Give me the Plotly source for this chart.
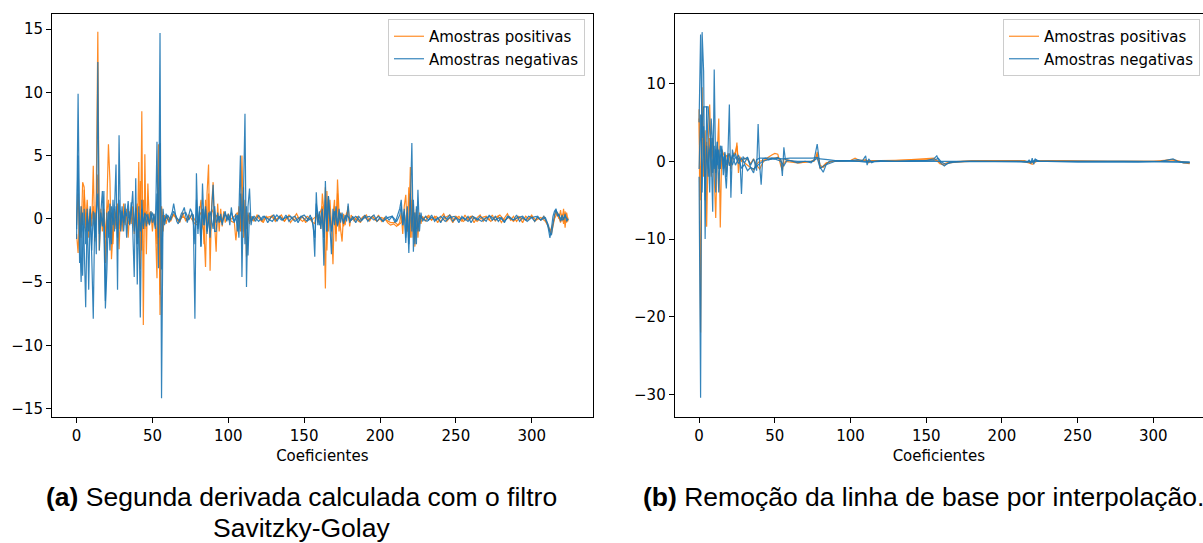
import plotly.graph_objects as go

# ---------------- (a) second derivative (Savitzky-Golay) ----------------
a_pos_1 = [(0,-1.2),(1,-2.7),(2,0.5),(3,-1.5),(4,2.9),(5,2.5),(6,-0.5),(7,1.5),(8,-1.0),(9,0.8),(10,-0.6),(11,4.2),(12,-1.8),(13,2.0),(14,14.8),(15,-2.5),(16,0.8),(17,-1.0),(18,0.5),(19,-3.5),(20,1.2),(21,5.9),(22,3.0),(23,-3.2),(24,-1.0),(25,0.6),(26,-0.8),(27,1.0),(28,-2.4),(29,0.7),(30,-1.0),(31,1.2),(32,-0.5),(33,0.8),(34,-1.5),(35,0.6),(36,-0.4),(37,1.0),(38,-1.2),(39,0.9),(40,-2.0),(41,4.5),(42,-4.0),(43,8.5),(44,-8.4),(45,5.1),(46,-2.8),(47,2.8),(48,-0.5),(49,0.6),(50,-1.0),(51,0.4),(52,-0.8),(53,-4.7),(54,5.9),(55,-7.6),(56,0.8),(57,-1.0),(58,0.3),(59,-0.4),(60,0.2),(62,-0.2),(64,0.4),(66,0.0),(68,-0.3),(70,0.5),(72,-0.2),(74,0.3),(76,-0.1),(78,-0.4),(80,-0.5),(81,0.6),(82,1.5),(83,-0.6),(84,-1.0),(85,-3.8),(86,2.0),(87,4.3),(88,-4.1),(89,1.0),(90,2.9),(91,-0.5),(92,-2.6),(93,1.2),(94,-1.0),(95,0.8),(96,-0.6),(97,0.6),(98,-0.3),(100,0.4),(102,-0.2),(104,-0.3),(105,-1.7),(106,-0.5),(107,1.0),(108,-0.8),(109,5.0),(110,-1.0),(111,1.5),(112,-3.0),(113,0.5),(114,-0.4),(115,0.2),
           (117,-0.2),(119,0.3),(121,0.1),(123,-0.3),(125,0.2),(127,-0.1),(129,0.3),(131,-0.2),(133,0.1),(135,0.3),(137,-0.2),(139,0.2),(141,-0.3),(143,0.1),(145,0.4),(147,-0.1),(149,0.2),(151,-0.3),(153,0.1),(155,-0.2),
           (157,-0.4),(158,0.5),(159,-0.3),(160,0.4),(161,-0.8),(162,2.0),(163,0.6),(164,-5.5),(165,2.2),(166,-1.0),(167,1.5),(168,-0.5),(169,-3.6),(170,1.0),(171,-1.2),(172,3.1),(173,0.5),(174,-0.8),(175,-1.8),(176,0.4),(177,-0.5),(178,0.3),(179,1.0),(180,-0.6),(181,0.3),(183,-0.2),
           (185,0.2),(187,-0.3),(189,0.1),(191,0.3),(193,-0.2),(195,0.2),(197,-0.1),(199,0.3),(201,-0.2),(203,0.1),(205,-0.3),(207,-0.5),(209,-0.4),(211,-0.6),(213,-0.3),(214,0.5),(215,-1.2),(216,1.0),(217,1.9),(218,-1.0),(219,-0.5),(220,4.1),(221,-1.5),(222,1.2),(223,-2.2),(224,0.8),(225,-1.5),(226,0.5),(227,-0.4),(228,0.2),
           (230,-0.2),(232,0.3),(234,-0.1),(236,0.2),(238,-0.3),(240,0.1),(242,0.4),(244,-0.2),(246,0.1),(248,-0.3),(250,0.2),(252,0.0),(254,-0.2),(256,0.3),(258,-0.1),(260,0.2),(262,-0.3),(264,0.1),(266,0.3),(268,-0.2),(270,0.1),(272,-0.1),(274,0.3),(276,-0.2),(278,0.2),(280,-0.3),(282,0.1),(284,0.4),(286,-0.1),(288,0.2),(290,-0.2),(292,0.1),(294,-0.3),(296,0.2),(298,0.0),(300,0.3),(302,-0.2),(304,0.1),(306,-0.1),(308,0.2),(310,-0.3),(312,-1.0),(314,-0.4),(316,0.6),(318,0.0),(319,0.7),(320,-0.2),(321,0.8),(322,-0.7),(323,0.5),(324,-0.2)]

a_pos_2 = [(0,-0.5),(1,2.0),(2,-1.5),(3,1.0),(4,-0.5),(5,2.3),(6,-1.0),(7,0.8),(8,-1.5),(9,0.5),(10,0.0),(11,1.0),(12,-0.8),(13,0.6),(14,3.5),(15,-1.0),(16,0.5),(17,-0.5),(18,0.8),(19,-1.5),(20,0.6),(21,1.5),(22,-1.2),(23,0.5),(24,-2.0),(25,0.8),(26,-0.5),(27,1.2),(28,-0.8),(29,0.5),(30,-0.3),(32,0.6),(34,-0.4),(36,0.5),(38,-0.6),(40,1.2),(41,-1.5),(42,3.0),(43,-2.5),(44,1.5),(45,-0.8),(46,0.6),(47,-0.4),(48,0.5),(50,-0.3),(52,0.2),(53,-2.0),(54,2.5),(55,-6.0),(56,1.0),(57,-0.3),(58,0.2),(61,-0.1),(64,0.3),(67,-0.2),(70,0.2),(73,-0.1),(76,0.3),(79,-0.3),(82,0.5),(83,0.5),(84,-2.0),(85,1.5),(86,-1.0),(87,2.0),(88,-1.5),(89,0.8),(90,0.5),(91,-0.8),(92,0.3),(95,-0.2),(98,0.3),(101,-0.1),(104,0.2),(106,0.5),(108,-1.0),(109,2.0),(110,-1.5),(111,0.8),(112,-0.8),(113,0.3),
           (116,-0.1),(119,0.2),(122,-0.2),(125,0.1),(128,0.2),(131,-0.1),(134,0.2),(137,-0.2),(140,0.3),(143,-0.1),(146,0.1),(149,-0.2),(152,0.2),(155,-0.1),(158,0.2),(160,0.3),(162,1.0),(163,-1.5),(164,2.5),(165,-2.5),(166,1.0),(168,-1.0),(170,1.5),(171,-1.8),(172,2.0),(173,-1.0),(174,0.5),(176,-0.6),(178,0.5),(180,-0.2),
           (183,0.1),(186,-0.2),(189,0.2),(192,-0.1),(195,0.2),(198,-0.2),(201,0.1),(204,-0.1),(207,-0.3),(210,-0.3),(212,-0.5),(214,-0.3),(216,0.5),(218,-1.0),(219,2.5),(220,-1.5),(221,1.5),(222,-1.0),(223,0.5),(224,-0.8),(226,0.3),(228,0.0),
           (231,0.2),(234,-0.1),(237,0.2),(240,-0.2),(243,0.1),(246,0.3),(249,-0.1),(252,0.2),(255,-0.2),(258,0.1),(261,0.2),(264,-0.2),(267,0.1),(270,0.2),(273,-0.2),(276,0.1),(279,0.3),(282,-0.1),(285,0.1),(288,-0.2),(291,0.2),(294,0.0),(297,-0.1),(300,0.2),(303,-0.1),(306,0.1),(309,-0.2),(311,-0.6),(313,-1.2),(315,0.0),(317,0.5),(319,-0.3),(320,0.4),(321,-0.4),(322,0.6),(323,-0.3),(324,0.1)]

a_neg_1 = [(0,-1.6),(1,9.9),(2,-1.0),(3,-5.0),(4,0.5),(5,-2.0),(6,-7.0),(7,0.8),(8,-5.6),(9,1.0),(10,-3.0),(11,-7.9),(12,0.5),(13,-2.8),(14,12.4),(15,-2.5),(16,0.5),(17,-0.6),(18,2.2),(19,-7.1),(20,-4.0),(21,0.6),(22,-2.5),(23,1.0),(24,-0.5),(25,0.8),(26,4.3),(27,-5.6),(28,6.6),(29,-1.0),(30,0.6),(31,-0.3),(32,1.2),(33,-1.5),(34,0.8),(35,-0.5),(36,1.3),(37,-0.8),(38,-4.6),(39,3.2),(40,-5.2),(41,1.0),(42,-7.8),(43,1.5),(44,-0.8),(45,0.5),(46,-0.6),(47,0.4),(48,-0.5),(49,0.6),(50,-0.3),(51,0.4),(52,-0.5),(53,6.1),(54,-3.9),(55,14.7),(56,-14.2),(57,0.8),(58,-0.5),(59,0.4),(60,0.0),(61,-0.3),(62,0.2),(63,0.5),(64,1.2),(65,0.3),(66,-0.2),(67,-0.4),(68,0.1),(69,0.4),(70,0.6),(71,0.9),(72,0.2),(73,-0.3),(74,0.3),(75,0.8),(76,0.5),(77,-0.5),(78,-7.9),(79,3.6),(80,-0.8),(81,0.6),(82,-2.2),(83,2.8),(84,-0.5),(85,0.8),(86,-1.2),(87,0.5),(88,-1.5),(89,0.6),(90,2.7),(91,-1.0),(92,-1.0),(93,0.5),(94,-0.3),(95,0.4),(96,-0.5),(97,0.3),(98,0.6),(99,-0.2),(100,0.4),(101,-0.5),(102,0.9),(103,0.0),(104,-0.3),(105,0.4),(106,-1.0),(107,0.5),(108,5.0),(109,-4.6),(110,1.0),(111,8.3),(112,-5.4),(113,1.0),(114,2.4),(115,-0.5),(116,0.2),
           (118,-0.2),(120,0.3),(122,-0.1),(124,0.2),(126,-0.3),(128,0.1),(130,0.3),(132,-0.2),(134,0.2),(136,-0.1),(138,0.3),(140,-0.2),(142,0.1),(144,0.2),(146,-0.3),(148,0.2),(150,0.0),(152,-0.2),(154,0.3),(156,-0.5),(157,-3.0),(158,2.1),(159,-0.5),(160,0.6),(161,-0.8),(162,0.5),(163,-3.7),(164,3.0),(165,-1.0),(166,1.8),(167,-0.6),(168,-2.8),(169,0.8),(170,-0.5),(171,1.0),(172,-0.6),(173,0.8),(174,-0.3),(175,0.5),(176,-0.4),(177,0.3),(178,-0.2),(179,1.2),(180,-0.3),
           (182,0.2),(184,-0.3),(186,0.2),(188,-0.1),(190,0.3),(192,-0.2),(194,0.1),(196,0.3),(198,-0.2),(200,0.1),(202,-0.2),(204,0.2),(206,-0.1),(208,0.2),(210,-0.3),(212,0.4),(213,0.8),(214,1.5),(215,-0.5),(216,0.6),(217,-1.9),(218,0.5),(219,-2.7),(220,1.0),(221,6.0),(222,-2.6),(223,0.5),(224,-2.0),(225,2.3),(226,-1.0),(227,0.5),(228,-0.2),
           (230,0.2),(232,-0.1),(234,0.3),(236,-0.2),(238,0.1),(240,-0.3),(242,0.2),(244,0.0),(246,0.3),(248,-0.2),(250,0.1),(252,-0.3),(254,0.2),(256,-0.1),(258,0.2),(260,-0.3),(262,0.1),(264,-0.1),(266,0.2),(268,0.0),(270,-0.2),(272,0.3),(274,-0.1),(276,0.2),(278,-0.2),(280,0.1),(282,-0.3),(284,0.2),(286,0.0),(288,-0.1),(290,0.3),(292,-0.2),(294,0.1),(296,-0.1),(298,0.2),(300,0.1),(302,-0.2),(304,0.2),(306,-0.1),(308,0.2),(310,-0.3),(311,-0.8),(312,-1.5),(313,-0.8),(314,0.2),(315,0.6),(316,0.8),(317,0.2),(318,0.4),(319,-0.2),(320,0.3),(321,-0.1),(322,0.4),(323,-0.2),(324,0.0)]

a_neg_2 = [(0,-0.8),(1,5.0),(2,-3.5),(3,1.0),(4,-4.5),(5,0.8),(6,-2.0),(7,0.5),(8,-1.0),(9,0.8),(10,-2.5),(11,0.6),(12,-1.5),(13,0.3),(14,2.0),(15,-1.2),(16,0.3),(17,2.2),(18,-1.0),(19,-6.5),(20,0.5),(21,-1.5),(22,1.2),(23,-2.0),(24,1.5),(25,-1.0),(26,1.0),(27,-1.5),(28,1.5),(29,-0.5),(30,1.0),(31,-1.0),(32,0.6),(33,0.2),(34,1.4),(35,-0.4),(36,0.5),(37,2.2),(38,-1.0),(39,0.8),(40,-2.0),(41,0.5),(42,-1.0),(43,0.8),(44,-0.6),(45,0.4),(46,0.3),(48,-0.4),(50,0.5),(52,-0.8),(53,2.0),(54,-1.5),(55,6.0),(56,-4.0),(57,0.3),(58,-0.2),(60,0.3),(62,-0.1),(64,0.6),(66,0.1),(68,-0.2),(70,0.4),(72,0.5),(74,-0.1),(76,0.4),(77,0.3),(78,-2.0),(79,1.5),(80,-1.2),(81,1.0),(82,-2.2),(83,0.8),(84,-0.5),(85,1.0),(86,-1.0),(88,0.6),(90,-0.8),(91,1.0),(92,-0.3),(94,0.2),(96,-0.3),(98,0.4),(100,-0.1),(102,0.5),(104,-0.2),(106,0.3),(107,-1.5),(108,2.0),(109,-1.0),(110,2.5),(111,-2.0),(112,1.0),(113,-2.9),(114,0.5),(115,-0.2),
           (117,0.2),(120,-0.2),(123,0.2),(126,0.0),(129,-0.2),(132,0.3),(135,-0.1),(138,0.1),(141,0.2),(144,-0.2),(147,0.1),(150,0.3),(153,-0.1),(155,0.1),(157,-1.5),(158,1.2),(160,-0.5),(162,0.8),(163,-1.5),(164,1.5),(165,-1.0),(166,1.8),(168,-1.0),(170,0.6),(172,-0.5),(174,0.4),(176,-0.3),(178,0.3),
           (181,-0.1),(184,0.2),(187,-0.2),(190,0.1),(193,0.2),(196,-0.1),(199,0.2),(202,-0.2),(205,0.1),(208,0.2),(211,-0.2),(213,0.3),(214,1.0),(215,-0.5),(216,0.8),(217,-1.5),(218,1.0),(219,-2.0),(220,2.0),(221,-1.0),(222,1.5),(223,-2.0),(224,1.0),(225,-1.0),(226,0.3),(228,0.0),
           (231,-0.2),(234,0.1),(237,-0.1),(240,0.2),(243,-0.2),(246,0.1),(249,0.2),(252,-0.1),(255,0.1),(258,-0.2),(261,0.2),(264,0.0),(267,-0.2),(270,0.1),(273,0.2),(276,-0.1),(279,0.1),(282,-0.2),(285,0.2),(288,-0.1),(291,0.1),(294,0.2),(297,-0.2),(300,0.1),(303,0.2),(306,-0.1),(309,0.1),(311,-0.5),(312,-1.1),(313,-1.3),(314,-0.4),(315,0.3),(316,0.7),(318,0.2),(320,-0.1),(322,0.2),(324,-0.1)]

# ---------------- (b) baseline removed by interpolation ----------------
b_pos_1 = [(0,6.7),(1,-22.0),(2,9.5),(3,-2.0),(4,4.0),(5,-8.4),(6,2.0),(7,7.3),(8,0.5),(9,3.0),(10,-2.0),(11,-7.3),(12,1.0),(13,5.5),(14,-8.5),(15,1.5),(16,1.0),(17,0.5),(18,-1.5),(19,1.0),(20,0.8),(21,-1.0),(22,0.5),(23,1.0),(24,0.8),(25,2.4),(26,-1.5),(27,0.6),(28,0.0),(30,0.4),(32,0.2),(34,-0.3),(36,0.3),(38,-0.5),(40,-1.0),(42,-0.2),(44,0.3),(46,0.6),(48,0.8),(50,1.0),(52,0.9),(54,-0.6),(55,-1.2),(56,0.3),(58,0.2),(62,0.0),(66,-0.2),(70,-0.1),(74,0.0),(77,0.3),(78,1.2),(79,0.0),(80,-0.9),(82,-0.6),(84,-0.2),(88,0.0),(95,0.1),(100,0.1),(103,0.4),(106,0.1),(110,0.2),(112,-0.2),(115,0.1),(120,0.1),(130,0.1),(140,0.2),(150,0.3),(155,0.4),(157,0.1),(159,-0.3),(162,-0.5),(165,-0.2),(170,-0.1),(180,0.0),(190,0.1),(200,0.1),(210,0.1),(218,-0.2),(220,-0.4),(223,0.0),(230,0.1),(250,0.0),(270,0.0),(290,0.0),(305,0.0),(312,0.2),(316,0.0),(320,-0.2),(324,-0.3)]

b_pos_2 = [(0,5.5),(1,-5.0),(2,6.0),(3,3.5),(4,-3.0),(5,2.5),(6,-1.0),(7,3.0),(8,-2.0),(9,1.5),(10,0.5),(11,-1.5),(12,2.0),(13,0.5),(14,-1.0),(15,1.0),(16,0.0),(18,0.8),(20,-0.5),(22,0.6),(24,1.2),(25,2.0),(26,0.0),(28,0.3),(30,-0.2),(32,-0.5),(34,-0.8),(36,-1.1),(38,-0.4),(40,0.0),(44,0.2),(48,0.4),(52,0.5),(54,0.2),(55,-0.8),(57,0.0),(60,-0.1),(65,-0.2),(70,-0.1),(76,0.0),(78,0.9),(80,-0.5),(82,-0.8),(84,-0.3),(88,0.0),(100,0.1),(120,0.1),(140,0.2),(155,0.2),(158,0.0),(161,-0.4),(165,-0.1),(180,0.1),(200,0.1),(215,0.1),(219,-0.3),(222,0.1),(240,0.1),(270,0.0),(300,0.0),(313,0.2),(318,0.0),(324,-0.2)]

b_neg_1 = [(0,-2.0),(1,-30.4),(2,16.6),(3,11.6),(4,-10.0),(5,7.0),(6,7.0),(7,4.0),(8,1.0),(9,-6.5),(10,11.8),(11,-1.5),(12,2.5),(13,-4.0),(14,2.0),(15,1.0),(16,0.5),(17,-1.0),(18,-3.5),(19,0.5),(20,7.3),(21,-4.7),(22,1.5),(23,0.5),(24,1.0),(25,0.3),(26,0.8),(27,0.2),(28,-4.2),(29,0.6),(30,0.3),(32,0.5),(34,-0.5),(36,0.3),(38,-1.2),(39,4.8),(40,-0.5),(41,-3.0),(42,0.3),(44,0.4),(46,0.2),(48,0.4),(50,0.3),(52,0.5),(54,0.2),(55,-1.9),(56,1.8),(57,0.2),(60,0.1),(65,-0.2),(70,0.0),(74,-0.2),(76,0.2),(78,2.2),(79,0.5),(80,-0.8),(82,-1.4),(84,-0.4),(86,0.0),(90,0.1),(95,0.1),(100,0.1),(105,0.2),(108,0.1),(110,0.7),(111,-0.5),(112,0.3),(114,-0.2),(116,0.0),(120,0.1),(130,0.0),(140,0.1),(150,0.1),(155,0.3),(157,0.7),(158,0.2),(160,-0.3),(162,-0.6),(164,-0.3),(168,-0.1),(175,0.0),(185,0.0),(200,0.0),(212,0.0),(217,-0.1),(218,0.2),(219,-0.3),(220,0.4),(221,-0.4),(222,0.3),(224,0.0),(230,0.0),(250,-0.1),(270,-0.1),(290,-0.1),(305,0.0),(310,0.2),(313,0.3),(316,0.0),(320,-0.2),(324,-0.2)]

b_neg_2 = [(0,5.0),(1,16.3),(2,3.0),(3,7.0),(4,7.0),(5,7.0),(6,2.0),(7,-4.0),(8,5.5),(9,2.0),(10,-1.0),(11,1.5),(12,-0.5),(13,1.5),(14,-1.0),(15,2.0),(16,-1.0),(17,1.0),(18,-2.0),(19,0.5),(20,1.0),(22,-0.5),(24,0.6),(26,-0.3),(28,0.4),(30,-0.2),(32,0.5),(34,-0.8),(36,-1.5),(38,0.2),(40,0.4),(45,0.4),(50,0.4),(55,0.3),(60,0.4),(65,0.4),(70,0.4),(75,0.4),(78,0.5),(80,0.3),(85,0.2),(90,0.1),(100,0.1),(110,-0.1),(120,0.0),(140,0.0),(155,0.1),(158,0.4),(160,-0.1),(163,-0.4),(166,-0.1),(180,0.0),(220,-0.1),(222,0.2),(225,0.0),(260,0.0),(300,0.0),(324,-0.1)]

b_neg_3 = [(0,-1.0),(1,6.0),(2,-4.0),(3,4.5),(4,-5.0),(5,2.0),(6,-2.0),(7,1.5),(8,3.0),(9,-1.5),(10,2.0),(11,-4.0),(12,2.5),(13,-1.0),(14,0.5),(15,1.5),(16,-1.8),(17,1.2),(18,-0.5),(19,0.8),(20,-0.6),(22,0.8),(24,-0.5),(26,0.4),(28,-0.9),(30,-0.4),(32,-1.2),(34,-0.8),(36,-1.0),(38,-0.6),(40,-0.3),(42,0.0),(46,0.2),(50,0.3),(54,0.0),(56,-0.6),(58,0.1),(65,0.0),(75,0.0),(78,0.4),(80,-0.9),(83,-0.5),(90,0.0),(120,0.0),(160,0.0),(200,0.0),(240,0.0),(280,0.0),(324,-0.1)]

legend_labels = ["Amostras positivas", "Amostras negativas"]
x_ticks = [0, 50, 100, 150, 200, 250, 300]
a_y_ticks = [-15, -10, -5, 0, 5, 10, 15]
b_y_ticks = [-30, -20, -10, 0, 10]
captions_a = ["<b>(a)</b> Segunda derivada calculada com o filtro", "Savitzky-Golay"]
caption_b = "<b>(b)</b> Remoção da linha de base por interpolação."

ORANGE = "#ff7f0e"
BLUE = "#1f77b4"
TICK_FONT = dict(family="DejaVu Sans", size=15, color="black")

W, H = 1203, 543


def unzip(pairs):
    return [p[0] for p in pairs], [p[1] for p in pairs]


def minus(v):
    return str(v).replace("-", "\u2212")


fig = go.Figure()

panels = [
    ("x", "y", "legend", [a_pos_1, a_pos_2], [a_neg_1, a_neg_2]),
    ("x2", "y2", "legend2", [b_pos_1, b_pos_2], [b_neg_1, b_neg_2, b_neg_3]),
]
for xa, ya, leg, pos_lines, neg_lines in panels:
    for color, lines, label in ((ORANGE, pos_lines, legend_labels[0]),
                                (BLUE, neg_lines, legend_labels[1])):
        for i, pairs in enumerate(lines):
            xs, ys = unzip(pairs)
            fig.add_trace(go.Scatter(
                x=xs, y=ys, mode="lines", xaxis=xa, yaxis=ya,
                line=dict(color=color, width=1.2), opacity=0.9,
                name=label, legend=leg, showlegend=(i == 0),
                legendgroup=leg + label, hoverinfo="skip"))

axis_common = dict(showline=True, mirror=True, linecolor="black", linewidth=1,
                   ticks="outside", ticklen=5, tickwidth=1, tickcolor="black",
                   showgrid=False, zeroline=False, tickfont=TICK_FONT)

x_title = dict(text="Coeficientes", font=dict(family="DejaVu Sans", size=15, color="black"), standoff=6)
legend_font = dict(family="DejaVu Sans", size=15, color="black")

fig.update_layout(
    width=W, height=H,
    margin=dict(l=0, r=0, t=0, b=0, autoexpand=False),
    paper_bgcolor="white", plot_bgcolor="white",
    xaxis=dict(domain=[52 / W, 592.7 / W], range=[-16.2, 340.2], anchor="y",
               tickvals=x_ticks, title=x_title, **axis_common),
    yaxis=dict(domain=[126.3 / H, 529 / H], range=[-15.65, 16.2], anchor="x",
               tickvals=a_y_ticks, ticktext=[minus(v) for v in a_y_ticks], **axis_common),
    xaxis2=dict(domain=[674.7 / W, 1.0], range=[-16.1, 332.8], anchor="y2",
                tickvals=x_ticks, title=x_title, **axis_common),
    yaxis2=dict(domain=[126.3 / H, 529 / H], range=[-32.83, 18.93], anchor="x2",
                tickvals=b_y_ticks, ticktext=[minus(v) for v in b_y_ticks], **axis_common),
    legend=dict(x=585 / W, xanchor="right", y=(H - 19) / H, yanchor="top",
                bgcolor="rgba(255,255,255,0.8)", bordercolor="#cccccc", borderwidth=1,
                font=legend_font, tracegroupgap=0),
    legend2=dict(x=1003 / W, xanchor="left", y=(H - 19) / H, yanchor="top",
                 bgcolor="rgba(255,255,255,0.8)", bordercolor="#cccccc", borderwidth=1,
                 font=legend_font, tracegroupgap=0),
)

cap_font = dict(family="Liberation Sans", size=26.5, color="black")
fig.add_annotation(text=captions_a[0], x=301.5 / W, y=(H - 497) / H, xref="paper", yref="paper",
                   xanchor="center", yanchor="middle", showarrow=False, font=cap_font)
fig.add_annotation(text=captions_a[1], x=301.5 / W, y=(H - 528) / H, xref="paper", yref="paper",
                   xanchor="center", yanchor="middle", showarrow=False, font=cap_font)
fig.add_annotation(text=caption_b, x=923 / W, y=(H - 497) / H, xref="paper", yref="paper",
                   xanchor="center", yanchor="middle", showarrow=False, font=cap_font)

fig.write_html("out.html")
